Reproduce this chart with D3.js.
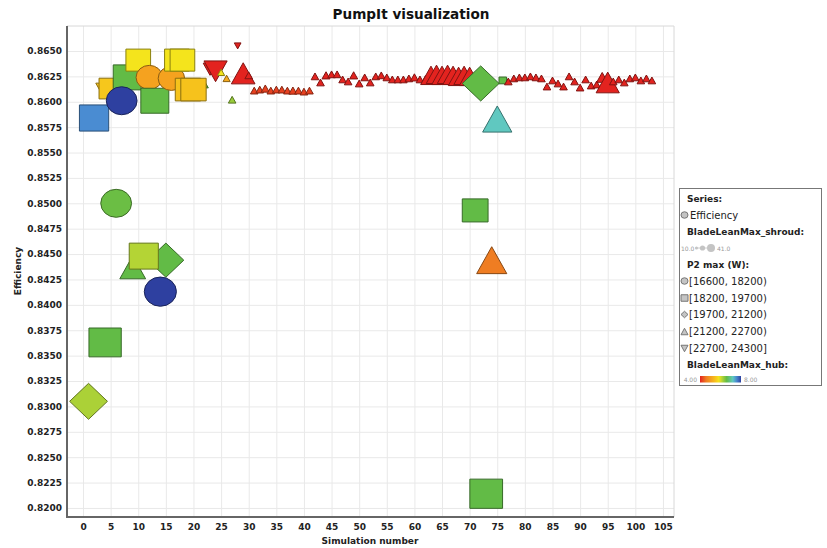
<!DOCTYPE html>
<html>
<head>
<meta charset="utf-8">
<script src="https://cdn.jsdelivr.net/npm/d3@7"></script>
<style>
body { margin:0; background:#fff; }
text { font-family: "DejaVu Sans", sans-serif; }
</style>
</head>
<body>
<script>
var width = 827, height = 548;

// one entry per simulation, listed in drawing order
var simNumber = [
  1, 2, 3, 4, 5, 6, 8, 7, 10, 9, 15, 11, 12, 13, 14, 16, 17, 18, 22, 19, 20, 23, 24, 25, 26, 27, 28, 29, 30,
  31, 32, 33, 34, 35, 36, 37, 38, 39, 40, 41,
  42, 43, 44, 45, 46, 47, 48, 49, 50, 51, 52, 53, 54, 55, 56, 57, 58, 59, 60, 61, 62,
  63, 64, 65, 66, 67, 68, 69, 70,
  71, 72, 73, 74, 75, 76,
  77, 78, 79, 80, 81, 82, 83, 84, 85, 86, 87, 88, 89, 90, 91, 92, 93, 94, 95, 96, 97, 98, 99, 100, 101, 102, 103
];
var efficiency = [
  0.8305, 0.8584, 0.8615, 0.8363, 0.8613, 0.8500, 0.8624, 0.8601, 0.8641, 0.8437, 0.8444, 0.8448, 0.8624, 0.8601, 0.8413,
  0.8623, 0.8641, 0.8641, 0.8617, 0.8612, 0.8612, 0.8632, 0.8630, 0.8629, 0.8623, 0.8602, 0.8655, 0.8628, 0.8626,
  0.8611, 0.8612, 0.8613, 0.8611, 0.8612, 0.8612, 0.8611, 0.8611, 0.8611, 0.8610, 0.8611,
  0.8625, 0.8619, 0.8626, 0.8627, 0.8627, 0.8622, 0.8620, 0.8626, 0.8618, 0.8624, 0.8619, 0.8625, 0.8626, 0.8624,
  0.8622, 0.8622, 0.8622, 0.8623, 0.8624, 0.8622, 0.8622,
  0.8626, 0.8627, 0.8626, 0.8627, 0.8626, 0.8625, 0.8626, 0.8625,
  0.8493, 0.8618, 0.8214, 0.8444, 0.8583, 0.8621,
  0.8620, 0.8623, 0.8624, 0.8624, 0.8625, 0.8624, 0.8623, 0.8615, 0.8621, 0.8618, 0.8615, 0.8625, 0.8620, 0.8614,
  0.8622, 0.8616, 0.8617, 0.8624, 0.8619, 0.8620, 0.8622, 0.8619, 0.8623, 0.8624, 0.8621, 0.8623, 0.8621
];
var bladeLeanHub = [
  6.2, 7.55, 5.5, 6.6, 5.55, 6.55, 6.6, 8.0, 5.85, 6.6, 6.6, 6.15, 5.1, 6.6, 8.0, 5.1, 5.85, 5.85, 6.6, 5.5, 5.5,
  4.0, 4.0, 5.85, 5.2, 6.3, 4.0, 4.0, 4.0,
  4.2, 4.2, 4.2, 4.2, 4.2, 4.2, 4.2, 4.2, 4.2, 4.2, 4.2,
  4.0, 4.0, 4.0, 4.0, 4.0, 4.0, 4.0, 4.0, 4.0, 4.0, 4.0, 4.0, 4.0, 4.0, 4.0, 4.0, 4.0, 4.0, 4.0, 4.0, 4.0,
  4.0, 4.0, 4.0, 4.0, 4.0, 4.0, 4.0, 4.0,
  6.6, 6.6, 6.6, 4.6, 7.2, 6.6,
  4.0, 4.0, 4.0, 4.0, 4.0, 4.0, 4.0, 4.0, 4.0, 4.0, 4.0, 4.0, 4.0, 4.0, 4.0, 4.0, 4.0, 4.0, 4.0, 4.0, 4.0, 4.0,
  4.0, 4.0, 4.0, 4.0, 4.0
];
var bladeLeanShroud = [
  41, 36, 11, 39.5, 29, 38.4, 34.5, 38.4, 30.7, 32, 39, 35.8, 33.3, 34.5, 40, 33.3, 30.7, 30.7, 11, 31.5, 31.5,
  18, 29, 10.5, 10.5, 11, 10, 29.5, 11,
  11, 11, 11.5, 11, 11, 11, 11, 11.5, 11, 11, 11,
  11, 11, 11.5, 11, 11, 11, 11, 11.5, 11, 11, 11, 11, 11, 11, 11, 11, 11, 11, 11.5, 11, 12,
  26, 26, 26, 26, 26, 26, 26, 26,
  32, 40, 40, 37, 36, 11,
  11, 11, 11, 11, 11, 11, 11, 11, 11, 11, 11, 11, 11, 11, 11, 11, 11, 15, 29, 11, 11, 11, 11, 11, 11, 11, 11
];
// index into p2Labels: 0 circle, 1 square, 2 diamond, 3 triangle up, 4 triangle down
var p2Bin = [
  2, 1, 4, 1, 1, 0, 1, 0, 1, 3, 2, 1, 0, 1, 0, 0, 1, 1, 3, 1, 1, 4, 4, 3, 3, 3, 4, 3, 3,
  3, 3, 3, 3, 3, 3, 3, 3, 3, 3, 3,
  3, 3, 3, 3, 3, 3, 3, 3, 3, 3, 3, 3, 3, 3, 3, 3, 3, 3, 3, 3, 3,
  3, 3, 3, 3, 3, 3, 3, 3,
  1, 2, 1, 3, 3, 1,
  3, 3, 3, 3, 3, 3, 3, 3, 3, 3, 3, 3, 3, 3, 3, 3, 3, 3, 3, 3, 3, 3, 3, 3, 3, 3, 3
];
var p2Labels = ["[16600, 18200)", "[18200, 19700)", "[19700, 21200)", "[21200, 22700)", "[22700, 24300]"];

var xTicks = d3.range(0, 106, 5);
var yTicks = [0.8200, 0.8225, 0.8250, 0.8275, 0.8300, 0.8325, 0.8350, 0.8375, 0.8400, 0.8425,
              0.8450, 0.8475, 0.8500, 0.8525, 0.8550, 0.8575, 0.8600, 0.8625, 0.8650];

var hubStops  = [4.0, 4.6, 5.1, 5.5, 5.85, 6.15, 6.6, 7.2, 7.55, 8.0];
var hubColors = ["#e3231f", "#ef7d22", "#f5a21f", "#f6c21c", "#f4e41c", "#b4d435", "#62bb46", "#60c8c0", "#4a8cd2", "#2e40a0"];

var plot = {left: 67, right: 674, top: 26, bottom: 517};

var svg = d3.select("body").append("svg").attr("width", width).attr("height", height);

var x = d3.scaleLinear().domain([-2.9, 107]).range([plot.left, plot.right]);
var y = d3.scaleLinear().domain([0.81911, 0.86746]).range([plot.bottom, plot.top]);
var color = d3.scaleLinear().domain(hubStops).range(hubColors).clamp(true);
var size = d3.scaleLinear().domain([10, 41]).range([6, 30]);
var shapeFactor = [1, 1, 1.2, 1, 1];
var shapeAspect = [1.1, 1.12, 1.05, 1.12, 1.12];

function shapePath(bin, w, h) {
  var a = w / 2, b = h / 2;
  if (bin == 0) return "M" + (-a) + ",0A" + a + "," + b + " 0 1,0 " + a + ",0A" + a + "," + b + " 0 1,0 " + (-a) + ",0Z";
  if (bin == 1) return "M" + (-a) + "," + (-b) + "H" + a + "V" + b + "H" + (-a) + "Z";
  if (bin == 2) return "M0," + (-b) + "L" + a + ",0L0," + b + "L" + (-a) + ",0Z";
  if (bin == 3) return "M0," + (-b) + "L" + a + "," + b + "L" + (-a) + "," + b + "Z";
  return "M" + (-a) + "," + (-b) + "L" + a + "," + (-b) + "L0," + b + "Z";
}

// title
svg.append("text").attr("x", 411).attr("y", 19).attr("text-anchor", "middle")
  .attr("font-size", "13.6px").attr("font-weight", "bold").attr("fill", "#111")
  .text("PumpIt visualization");

// grid
svg.append("g").attr("transform", "translate(0," + plot.bottom + ")")
  .call(d3.axisBottom(x).tickValues(xTicks).tickSize(-(plot.bottom - plot.top)).tickFormat(""))
  .call(function(g){ g.select(".domain").remove(); g.selectAll("line").attr("stroke", "#e9e9e9"); });
svg.append("g").attr("transform", "translate(" + plot.left + ",0)")
  .call(d3.axisLeft(y).tickValues(yTicks).tickSize(-(plot.right - plot.left)).tickFormat(""))
  .call(function(g){ g.select(".domain").remove(); g.selectAll("line").attr("stroke", "#e9e9e9"); });

// plot frame
svg.append("path").attr("d", "M" + plot.left + "," + plot.top + "H" + plot.right + "V" + plot.bottom)
  .attr("fill", "none").attr("stroke", "#d8d8d8");

// markers
var pts = simNumber.map(function(s, i){
  return {sim: s, eff: efficiency[i], hub: bladeLeanHub[i], shroud: bladeLeanShroud[i], bin: p2Bin[i]};
});
svg.append("g").selectAll("path").data(pts).enter().append("path")
  .attr("transform", function(d){ return "translate(" + x(d.sim) + "," + y(d.eff) + ")"; })
  .attr("d", function(d){
    var h = size(d.shroud) * shapeFactor[d.bin];
    return shapePath(d.bin, h * shapeAspect[d.bin], h);
  })
  .attr("fill", function(d){ return color(d.hub); })
  .attr("stroke", function(d){ return d3.color(color(d.hub)).darker(1.6); })
  .attr("stroke-width", 1);

// axes
var gx = svg.append("g").attr("transform", "translate(0," + plot.bottom + ")")
  .call(d3.axisBottom(x).tickValues(xTicks).tickSize(0).tickPadding(7));
var gy = svg.append("g").attr("transform", "translate(" + plot.left + ",0)")
  .call(d3.axisLeft(y).tickValues(yTicks).tickSize(0).tickPadding(5).tickFormat(d3.format(".4f")));
[gx, gy].forEach(function(g){
  g.select(".domain").remove();
  g.selectAll("text").attr("font-family", "DejaVu Sans").attr("font-size", "9px")
    .attr("font-weight", "bold").attr("fill", "#222");
});
svg.append("line").attr("x1", plot.left).attr("x2", plot.left).attr("y1", plot.top).attr("y2", plot.bottom + 1)
  .attr("stroke", "#666").attr("stroke-width", 2);
svg.append("line").attr("x1", plot.left - 1).attr("x2", plot.right).attr("y1", plot.bottom).attr("y2", plot.bottom)
  .attr("stroke", "#666").attr("stroke-width", 2);

svg.append("text").attr("x", 370).attr("y", 544).attr("text-anchor", "middle")
  .attr("font-size", "9px").attr("font-weight", "bold").attr("fill", "#222").text("Simulation number");
svg.append("text").attr("transform", "translate(21,271) rotate(-90)").attr("text-anchor", "middle")
  .attr("font-size", "9px").attr("font-weight", "bold").attr("fill", "#222").text("Efficiency");

// legend
var lg = svg.append("g");
lg.append("rect").attr("x", 679.5).attr("y", 188.5).attr("width", 142).attr("height", 197)
  .attr("fill", "#fff").attr("stroke", "#777");

function heading(txt, yy) {
  lg.append("text").attr("x", 687).attr("y", yy).attr("font-size", "9px").attr("font-weight", "bold")
    .attr("fill", "#222").text(txt);
}
function icon(bin, cx, cy) {
  lg.append("path").attr("transform", "translate(" + cx + "," + cy + ")")
    .attr("d", shapePath(bin, 7, 6.5)).attr("fill", "#c4c4c4").attr("stroke", "#777");
}

heading("Series:", 202);
icon(0, 684.5, 215);
lg.append("text").attr("x", 690).attr("y", 218.5).attr("font-size", "10px").attr("fill", "#222").text("Efficiency");

heading("BladeLeanMax_shroud:", 235);
lg.append("text").attr("x", 681).attr("y", 250.5).attr("font-size", "6px").attr("fill", "#999").text("10.0");
lg.append("line").attr("x1", 695).attr("x2", 714).attr("y1", 248).attr("y2", 248).attr("stroke", "#ccc");
[[696.5, 1.5], [702.5, 2.6], [711, 4]].forEach(function(c){
  lg.append("circle").attr("cx", c[0]).attr("cy", 248).attr("r", c[1]).attr("fill", "#c4c4c4");
});
lg.append("text").attr("x", 717).attr("y", 250.5).attr("font-size", "6px").attr("fill", "#999").text("41.0");

heading("P2 max (W):", 268);
var rowY = [281, 298, 314.5, 331.5, 348.5];
p2Labels.forEach(function(lbl, i){
  icon(i, 684.5, rowY[i]);
  lg.append("text").attr("x", 689).attr("y", rowY[i] + 3.6).attr("font-size", "10px").attr("fill", "#222").text(lbl);
});

heading("BladeLeanMax_hub:", 368);
var grad = svg.append("defs").append("linearGradient").attr("id", "hubGrad");
d3.range(0, 1.001, 0.05).forEach(function(t){
  grad.append("stop").attr("offset", (t * 100) + "%").attr("stop-color", color(4 + 4 * t));
});
lg.append("text").attr("x", 697).attr("y", 381.5).attr("text-anchor", "end").attr("font-size", "6px")
  .attr("fill", "#999").text("4.00");
lg.append("rect").attr("x", 700).attr("y", 376).attr("width", 41).attr("height", 6.5).attr("fill", "url(#hubGrad)");
lg.append("text").attr("x", 744).attr("y", 381.5).attr("font-size", "6px").attr("fill", "#999").text("8.00");
</script>
</body>
</html>
